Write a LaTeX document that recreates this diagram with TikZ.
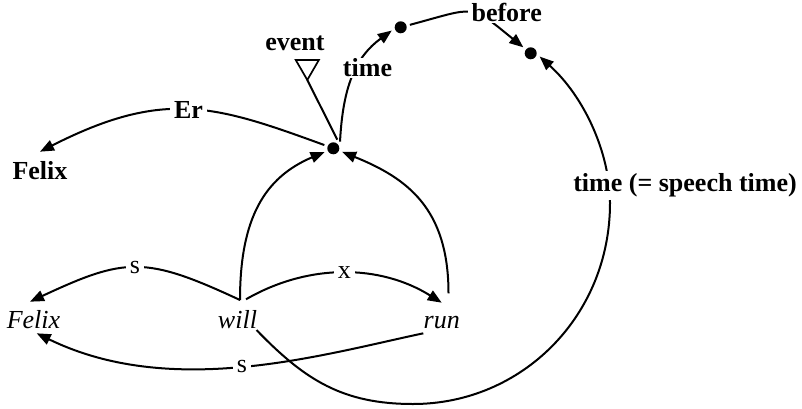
\documentclass[tikz,border=0pt]{standalone}
\usepackage{fontspec}
\setmainfont{Liberation Serif}
\usetikzlibrary{arrows.meta,shapes.geometric}
\begin{document}
\begin{tikzpicture}[x=1pt,y=1pt,
  word/.style={anchor=base, inner sep=0pt, font=\fontsize{26}{31}\selectfont\itshape},
  bword/.style={anchor=base, inner sep=0pt, font=\fontsize{26}{31}\selectfont\bfseries},
  dot/.style={circle, fill=black, minimum size=12pt, inner sep=0pt, outer sep=3.5pt},
  lbl/.style={fill=white, inner xsep=4pt, inner ysep=1pt, font=\fontsize{26}{31}\selectfont},
  blbl/.style={fill=white, inner xsep=4pt, inner ysep=1pt, font=\fontsize{26}{31}\selectfont\bfseries},
  conn/.style={line width=2pt, -{Triangle[length=14pt,width=11pt]}},
  plainline/.style={line width=2pt},
]
\useasboundingbox (0,0) rectangle (802,408);
% nodes
\node[dot] (c) at (333.3,259.7) {};
\node[dot] (d2) at (400.7,380.7) {};
\node[dot] (d3) at (530.7,354.7) {};
\node[regular polygon, regular polygon sides=3, shape border rotate=180, draw, line width=1.7pt, minimum size=26.6pt, inner sep=0pt, outer sep=0pt] (tri) at (307.3,341.3) {};
\node[bword] (event) at (295,357.3) {event};
\node[bword] (FB) at (40,228.7) {Felix};
\node[word] (FI) at (33.5,79.7) {Felix};
\node[word] (will) at (237.5,79.7) {will};
\node[word] (run) at (441.7,79.7) {run};
\coordinate (b1) at (413,4);
\coordinate (b2) at (610,205);
% connectors
\draw[plainline] (tri.corner 1) -- (c.65);
\draw[conn] (c.160) to[out=160,in=27,out distance=115,in distance=140] node[blbl]{Er} ([shift={(0,27.6)}]FB.base);
\draw[conn] (c.45) to[out=87,in=216,out distance=55,in distance=45] (d2.200);
\draw[conn] (d2.15) to[out=15,in=141,out distance=70,in distance=70] (d3.141);
\draw[conn] ([shift={(2.5,28.3)}]will.base) to[out=90,in=203,out distance=82,in distance=65] (c.203);
\draw[conn] ([shift={(6.8,35)}]run.base) to[out=90,in=-22,out distance=85,in distance=70] (c.-22);
\draw[conn] ([shift={(2.5,28.3)}]will.base) to[out=155,in=25,out distance=105,in distance=105] node[lbl]{s} ([shift={(-3.5,26.6)}]FI.base);
\draw[conn] ([shift={(8.5,29)}]will.base) to[out=30,in=148,out distance=72.5,in distance=72.5] node[lbl]{x} ([shift={(0,25.6)}]run.base);
\draw[conn] ([shift={(-18.4,-5)}]run.base) to[out=192,in=-26,out distance=105,in distance=150] node[lbl]{s} ([shift={(3.2,-5)}]FI.base);
\draw[conn] ([shift={(19,-1.7)}]will.base) to[out=-46,in=180,out distance=70,in distance=70] (b1)
  to[out=0,in=-90,out distance=109,in distance=113] (b2)
  to[out=90,in=-42,out distance=50,in distance=60] (d3.-20);
% labels lying over connectors
\node[blbl, anchor=base] (tlab) at (367.5,331.3) {time};
\node[blbl, anchor=base] (blab) at (506.7,386) {before};
\node[blbl, anchor=base, inner ysep=2.5pt] (stlab) at (685,216.3) {time (= speech time)};
\end{tikzpicture}
\end{document}
